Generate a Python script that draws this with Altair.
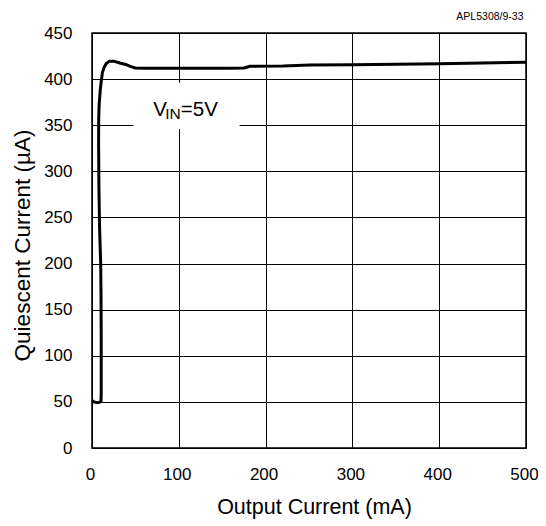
import altair as alt
import pandas as pd

# ---- data ----
output_current_ma = [0.5, 2, 5, 8, 10.4, 10.6, 10.6, 10.4, 10.0, 8.8, 8.0, 7.6, 7.7, 8.2,
                     9.5, 10.7, 12, 14, 16.5, 20, 25, 32, 40, 45, 50, 60, 100, 160,
                     175, 182, 220, 251, 301, 401, 500]
quiescent_current_ua = [51.5, 50, 49.3, 49.3, 50.5, 60, 120, 165, 200, 236, 280, 330, 355, 372,
                        388, 398, 407, 413, 417, 419.5, 419.5, 417.5, 415.5, 413.5, 412, 411.8, 411.8, 411.7,
                        412, 414, 414.3, 415.3, 415.7, 416.7, 418.2]

x_ticks = [0, 100, 200, 300, 400, 500]
y_ticks = [0, 50, 100, 150, 200, 250, 300, 350, 400, 450]

# annotation (legend-like box and label)
label_box = {"x": [47.7], "x2": [170], "y": [346], "y2": [396]}
label_parts = ["V", "IN", "=5V"]
label_x = [70.6, 84.4, 102.3]
label_y = [360, 356.8, 360]
label_size = [20.5, 15.5, 20.5]

fig_id = "APL5308/9-33"

FONT = "Liberation Sans"

df = pd.DataFrame({"x": output_current_ma, "y": quiescent_current_ua,
                   "i": list(range(len(output_current_ma)))})
box_df = pd.DataFrame(label_box)
txt_df = pd.DataFrame({"t": label_parts, "x": label_x, "y": label_y, "s": label_size})
id_df = pd.DataFrame({"t": [fig_id]})

x_scale = alt.Scale(domain=[0, 500], nice=False)
y_scale = alt.Scale(domain=[0, 450], nice=False)

x_axis = alt.Axis(values=x_ticks, title="Output Current (mA)", grid=True, ticks=False,
                  domain=False, labelPadding=18, labelFontSize=17, labelFont=FONT,
                  labelColor="black", labelFlush=False, labelOffset=-2,
                  titleFont=FONT, titleFontSize=21.5, titleFontWeight="normal",
                  titleColor="black", titleX=222, titleY=65, titleBaseline="alphabetic",
                  gridColor="black", gridWidth=1, gridOpacity=1)
y_axis = alt.Axis(values=y_ticks, title="Quiescent Current (µA)", grid=True, ticks=False,
                  domain=False, labelPadding=20, labelFontSize=17, labelFont=FONT,
                  labelColor="black", labelFlush=False,
                  titleFont=FONT, titleFontSize=22.5, titleFontWeight="normal",
                  titleColor="black", titleX=-62.5, titleY=212, titleAngle=270,
                  titleBaseline="alphabetic",
                  gridColor="black", gridWidth=1, gridOpacity=1)

line = alt.Chart(df).mark_line(color="black", strokeWidth=3, strokeJoin="round").encode(
    x=alt.X("x:Q", scale=x_scale, axis=x_axis),
    y=alt.Y("y:Q", scale=y_scale, axis=y_axis),
    order="i:Q",
)

box = alt.Chart(box_df).mark_rect(fill="white").encode(
    x=alt.X("x:Q", scale=x_scale),
    x2="x2:Q",
    y=alt.Y("y:Q", scale=y_scale),
    y2="y2:Q",
)

txt = alt.Chart(txt_df).mark_text(align="left", baseline="alphabetic", font=FONT,
                                  color="black").encode(
    x=alt.X("x:Q", scale=x_scale),
    y=alt.Y("y:Q", scale=y_scale),
    text="t:N",
    size=alt.Size("s:Q", scale=None, legend=None),
)

fig_label = alt.Chart(id_df).mark_text(align="right", baseline="alphabetic", font=FONT,
                                       fontSize=10.5, color="black").encode(
    x=alt.value(431.5),
    y=alt.value(-13),
    text="t:N",
)

chart = alt.layer(line, box, txt, fig_label).properties(
    width=434,
    height=415,
    autosize=alt.AutoSizeParams(type="none"),
    padding={"left": 84, "top": 25, "right": 12, "bottom": 78},
).configure_view(stroke="black", strokeWidth=1.5)

chart.save("out.html", embed_options={"renderer": "svg", "actions": False})
